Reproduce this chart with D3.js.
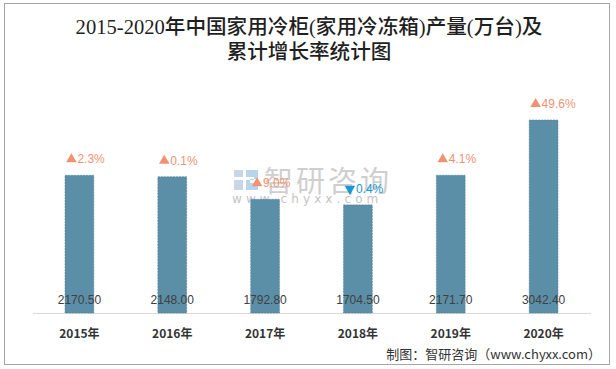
<!DOCTYPE html>
<html><head><meta charset="utf-8">
<script src="https://cdn.jsdelivr.net/npm/d3@7"></script>
<style>body{margin:0;background:#fff}svg{display:block}</style>
</head><body><svg id="c" width="616" height="369"></svg>
<script>
const years = ["2015年","2016年","2017年","2018年","2019年","2020年"];
const output = [2170.50, 2148.00, 1792.80, 1704.50, 2171.70, 3042.40];
const growth = [2.3, 0.1, 9.0, -0.4, 4.1, 49.6];
const titleLines = ["2015-2020年中国家用冷柜(家用冷冻箱)产量(万台)及","累计增长率统计图"];
const source = "制图：智研咨询（www.chyxx.com）";

const svg = d3.select("#c");
svg.append("rect").attr("x",4.5).attr("y",3.5).attr("width",605).attr("height",361)
  .attr("fill","#fff").attr("stroke","#a6a6a6").attr("stroke-width",1);

const x = d3.scaleBand().domain(years).range([33, 590]).paddingInner(0.69).paddingOuter(0.345);
const y = d3.scaleLinear().domain([0, 3500]).range([313, 91]);

// title
svg.append("g").selectAll("text").data(titleLines).join("text")
  .attr("x", 309).attr("y", (d,i)=>34 + i*25)
  .attr("text-anchor","middle")
  .attr("font-family","'Liberation Serif','Noto Sans CJK SC',serif")
  .attr("font-size",20.6).attr("font-weight",500).attr("fill","#1f1f1f")
  .text(d=>d);

// watermark
const wm = svg.append("g");
wm.append("rect").attr("x",234).attr("y",170).attr("width",9).attr("height",7).attr("fill","#c9d6e6");
wm.append("rect").attr("x",234).attr("y",180).attr("width",9).attr("height",10).attr("fill","#c9d6e6");
wm.append("path").attr("d","M246 170 h12 v9 h-8 v4 h8 v7 h-12 v-10 h8 v-3 h-8 z").attr("fill","#b9d5ec");
wm.append("text").attr("x",264).attr("y",192).attr("font-family","'Noto Sans CJK SC'")
  .attr("font-size",29).attr("fill","#cfcfcf").attr("letter-spacing",3).text("智研咨询");
wm.append("text").attr("x",232).attr("y",203).attr("font-family","'DejaVu Sans'")
  .attr("font-size",12).attr("fill","#c4c4c4").attr("letter-spacing",4.1).text("www.chyxx.com");

// axis
const xAxis = d3.axisBottom(x).tickSize(0).tickPadding(14);
const ax = svg.append("g").attr("transform","translate(0,313)").call(xAxis);
ax.select(".domain").attr("stroke","#d9d9d9").attr("stroke-width",1.2).attr("d","M33,0.5H591");
ax.selectAll("text").attr("font-family","'Noto Sans CJK SC'").attr("font-size",12)
  .attr("font-weight","bold").attr("fill","#333").attr("dy","0.9em");

// bars
svg.append("g").selectAll("rect").data(output).join("rect")
  .attr("x",(d,i)=>x(years[i])).attr("width",x.bandwidth())
  .attr("y",d=>y(d)).attr("height",d=>y(0)-y(d))
  .attr("fill","#5b8fa7").attr("stroke","#4d7f97").attr("stroke-width",0.6).attr("stroke-dasharray","2,1");

// value labels
svg.append("g").selectAll("text").data(output).join("text")
  .attr("x",(d,i)=>x(years[i])+x.bandwidth()/2).attr("y",304)
  .attr("text-anchor","middle").attr("font-family","'Liberation Sans','Noto Sans',sans-serif")
  .attr("font-size",12).attr("fill","#404040").text(d=>d.toFixed(2));

// growth labels
const up = "#f09272", down = "#1a98d5";
const gl = svg.append("g").selectAll("g").data(growth).join("g")
  .attr("transform",(d,i)=>`translate(${x(years[i])+x.bandwidth()/2+7},${y(output[i])-12})`);
gl.append("path")
  .attr("d",d3.symbol(d3.symbolTriangle, 48))
  .attr("transform",d=>`translate(-15,-4) ${d<0?"rotate(180)":""}`)
  .attr("fill",d=>d<0?down:up);
gl.append("text").attr("x",-9).attr("y",0)
  .attr("font-family","'Liberation Sans','Noto Sans',sans-serif").attr("font-size",12)
  .attr("fill",d=>d<0?down:up).text(d=>Math.abs(d).toFixed(1)+"%");

// source
svg.append("text").attr("x",601).attr("y",359).attr("text-anchor","end")
  .attr("font-family","'Noto Sans CJK SC'").attr("font-size",13).attr("fill","#333").text(source);
</script></body></html>
